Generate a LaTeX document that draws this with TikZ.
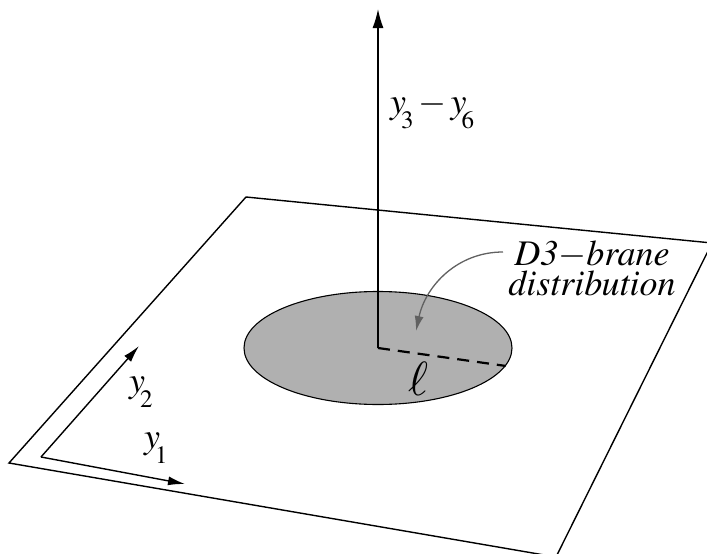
\documentclass[tikz,border=0pt]{standalone}
\usepackage[T1]{fontenc}
\usepackage{mathptmx}
\usetikzlibrary{arrows.meta,shapes.geometric,positioning}
\newcommand{\ysub}[1]{$y$\kern-5pt\lower15pt\hbox{\fontsize{25}{25}\selectfont #1}}

\begin{document}
\begin{tikzpicture}[
  x=1pt, y=-1pt,
  lbl/.style={font=\fontsize{36}{30}\selectfont, inner sep=0pt},
  axis/.style={-{Latex[length=19pt,width=11pt]}, line width=1.4pt},
  smallaxis/.style={-{Latex[length=17pt,width=9pt]}, line width=1.4pt},
  pointer/.style={-{Latex[length=15pt,width=9pt]}, line width=1.3pt, black!62},
]
\useasboundingbox (0,0) rectangle (707,554);
% the brane plane
\coordinate (pl) at (9,463);
\coordinate (pt) at (246,197);
\coordinate (pr) at (712,243);
\coordinate (pb) at (556,557);
\draw[line width=1.4pt] (pl) -- (pt) -- (pr) -- (pb) -- cycle;
% distribution disk
\node[ellipse, draw, fill=black!31, line width=1.1pt, minimum width=268pt,
      minimum height=113pt] (disk) at (378,348) {};
\coordinate (top) at (378,9);
\draw[axis] (disk.center) -- (top);
\node[lbl, anchor=base west] (ylab) at (390,113) {\ysub{3}\kern5pt$-$\kern4pt\ysub{6}};
\draw[line width=2.2pt, dash pattern=on 12pt off 8pt] (disk.center) -- (disk.-8);
\node[lbl, font=\fontsize{48}{48}\selectfont] (ell) at (418,379) {$\ell$};
% label with pointer
\node[lbl, align=center] (brane) at (592,269) {\textit{D3$-$brane}\\\textit{distribution}};
\coordinate (tail) at (503,252);
\coordinate (tip) at (416,331);
\draw[pointer] (tail) to[out=180, in=78] (tip);
% in-plane axes
\coordinate (o) at (41,457);
\coordinate (e1) at (185,484);
\coordinate (e2) at (139,346);
\draw[smallaxis] (o) -- (e1);
\draw[smallaxis] (o) -- (e2);
\node[lbl, anchor=base west] (y2lab) at (129,392) {\ysub{2}};
\node[lbl, anchor=base west] (y1lab) at (144,448) {\ysub{1}};
\end{tikzpicture}
\end{document}
